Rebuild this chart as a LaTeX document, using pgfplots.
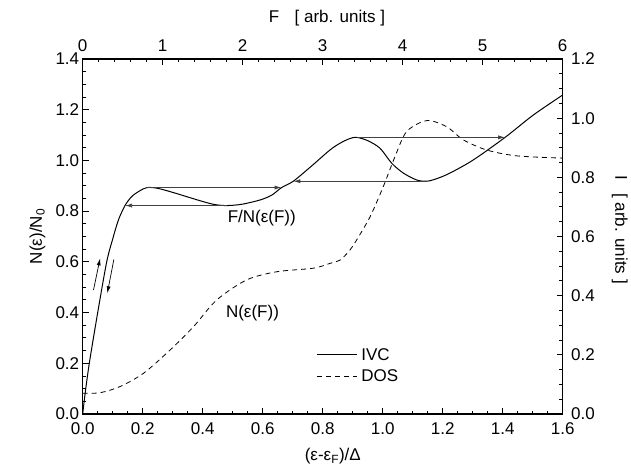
\documentclass[border=0pt]{standalone}
\usepackage{fontspec}
\setmainfont{Liberation Sans}
\usepackage{pgfplots}
\pgfplotsset{compat=1.18}
\usetikzlibrary{arrows.meta}

\newcommand{\lblfont}{\fontsize{17}{20}\selectfont}

\pgfplotsset{
  base/.style={
    width=480pt, height=355pt, scale only axis,
    at={(0pt,0pt)}, anchor=south west,
    tick align=inside,
    major tick length=6pt, minor tick length=3.5pt,
    axis line style={line width=1.1pt},
    every tick/.style={line width=0.9pt, black},
    ticklabel style={font=\lblfont},
    /pgf/number format/assume math mode=true,
    label style={font=\lblfont},
  },
  onedec/.style={/pgf/number format/fixed, /pgf/number format/fixed zerofill,
    /pgf/number format/precision=1},
}

\begin{document}
\begin{tikzpicture}
\useasboundingbox (-82.7pt,-54pt) rectangle (548.3pt,414pt);

% top / right axes: F and I
\begin{axis}[base,
  xmin=0, xmax=6, ymin=0, ymax=1.2,
  xtick pos=right, ytick pos=right,
  xtick={0,1,2,3,4,5,6},
  ytick={0,0.2,0.4,0.6,0.8,1.0,1.2},
  minor x tick num=4, minor y tick num=3,
  yticklabel style={onedec, xshift=5pt},
  xticklabel style={/pgf/number format/fixed, /pgf/number format/precision=0, yshift=4pt},
  xlabel={F\hspace{0.9em}[ arb. units ]},
  xlabel style={at={(axis description cs:0.509,1.115)}, anchor=center},
  ylabel={I\hspace{0.8em}[ arb. units ]},
  ylabel style={at={(axis description cs:1.119,0.52)}, anchor=center, rotate=180},
]
\addplot[draw=none, forget plot] coordinates {(0,0)};
\end{axis}

% main axes
\begin{axis}[base,
  xmin=0, xmax=1.6, ymin=0, ymax=1.4,
  xtick pos=left, ytick pos=left,
  xtick={0,0.2,0.4,0.6,0.8,1.0,1.2,1.4,1.6},
  ytick={0,0.2,0.4,0.6,0.8,1.0,1.2,1.4},
  minor x tick num=3, minor y tick num=3,
  xticklabel style={onedec, yshift=-5pt}, yticklabel style={onedec},
  xlabel={(ε-ε\textsubscript{F})/Δ},
  xlabel style={at={(axis description cs:0.521,-0.12)}, anchor=center},
  ylabel={N(ε)/N\textsubscript{0}},
  ylabel style={at={(axis description cs:-0.094,0.5)}, anchor=center},
  legend style={draw=none, fill=none, font=\lblfont,
    at={(axis cs:0.78,0.191)}, anchor=west, inner sep=0pt,
    row sep=5pt, nodes={inner sep=1.5pt},
    /tikz/every odd column/.append style={column sep=2pt}},
  legend cell align=left,
  legend image code/.code={\draw[#1] (0pt,0pt) -- (40pt,0pt);},
]
% IVC (solid)
\addplot[black, line width=1pt, smooth, tension=0.5] coordinates {
(0,0)(0.008,0.08)(0.022,0.2)(0.05,0.4)(0.08,0.6)(0.10,0.69)(0.119,0.765)
(0.141,0.822)(0.163,0.857)(0.19,0.880)(0.215,0.893)(0.25,0.890)(0.30,0.874)
(0.347,0.857)(0.40,0.838)(0.44,0.826)(0.48,0.822)(0.53,0.827)(0.591,0.844)
(0.63,0.863)(0.663,0.893)(0.702,0.918)(0.76,0.975)(0.824,1.041)(0.858,1.068)
(0.89,1.086)(0.913,1.091)(0.95,1.078)(0.991,1.048)(1.030,0.989)(1.069,0.950)
(1.113,0.923)(1.147,0.918)(1.18,0.928)(1.224,0.950)(1.302,1.002)(1.408,1.091)
(1.502,1.179)(1.6,1.258)
};
\addlegendentry{IVC}
% DOS (dashed)
\addplot[black, line width=0.8pt, dash pattern=on 5pt off 4pt, smooth, tension=0.5] coordinates {
(0,0.082)(0.058,0.084)(0.124,0.108)(0.202,0.160)(0.291,0.252)(0.369,0.344)
(0.447,0.450)(0.547,0.529)(0.647,0.561)(0.769,0.575)(0.824,0.594)(0.858,0.607)
(0.891,0.647)(0.913,0.686)(0.958,0.778)(1.002,0.897)(1.041,1.015)(1.080,1.114)
(1.147,1.157)(1.213,1.133)(1.269,1.081)(1.347,1.041)(1.447,1.018)(1.6,1.009)
};
\addlegendentry{DOS}

% switching arrows
\pgfplotsset{every axis plot/.append style={forget plot}}
\addplot[black!75, line width=0.7pt, -{Latex[length=7pt,width=4pt]}] coordinates {(0.480,0.822)(0.141,0.822)};
\addplot[black!75, line width=0.7pt, -{Latex[length=7pt,width=4pt]}] coordinates {(0.215,0.893)(0.663,0.893)};
\addplot[black!75, line width=0.7pt, -{Latex[length=7pt,width=4pt]}] coordinates {(1.147,0.918)(0.702,0.918)};
\addplot[black!75, line width=0.7pt, -{Latex[length=7pt,width=4pt]}] coordinates {(0.913,1.091)(1.408,1.091)};
\addplot[black, line width=0.7pt, -{Latex[length=7pt,width=4pt]}] coordinates {(0.036,0.489)(0.058,0.614)};
\addplot[black, line width=0.7pt, -{Latex[length=7pt,width=4pt]}] coordinates {(0.104,0.610)(0.082,0.476)};

\node[font=\lblfont] at (axis cs:0.597,0.772) {F/N(ε(F))};
\node[font=\lblfont] at (axis cs:0.566,0.397) {N(ε(F))};
\end{axis}
\end{tikzpicture}
\end{document}
